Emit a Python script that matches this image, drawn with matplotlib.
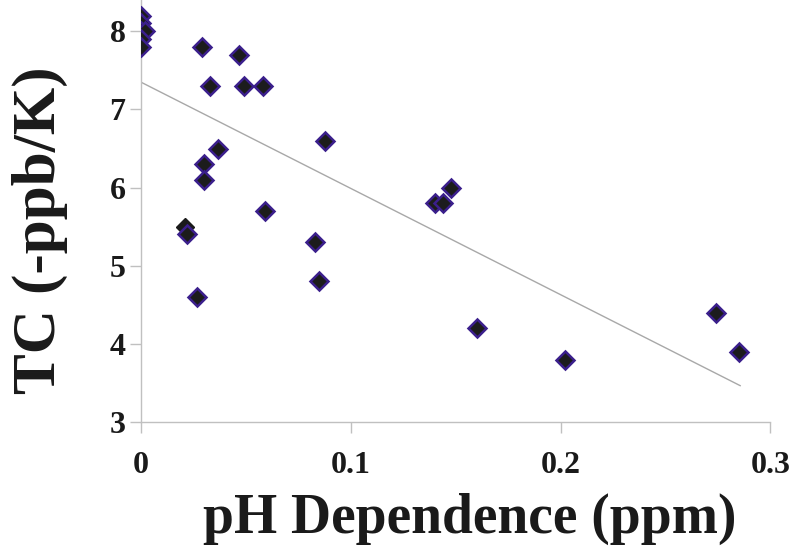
import numpy as np
import matplotlib
matplotlib.use('Agg')
import matplotlib.pyplot as plt

# pH dependence (ppm) vs TC (-ppb/K)
ph_dep = [0.0, 0.0, 0.0, 0.002, 0.0, 0.0,
          0.029, 0.047, 0.033, 0.049, 0.058,
          0.037, 0.088, 0.030, 0.030, 0.022,
          0.059, 0.027, 0.083, 0.085,
          0.140, 0.144, 0.148, 0.160, 0.202,
          0.274, 0.285]
tc = [8.2, 8.1, 8.0, 8.0, 7.9, 7.8,
      7.8, 7.7, 7.3, 7.3, 7.3,
      6.5, 6.6, 6.3, 6.1, 5.4,
      5.7, 4.6, 5.3, 4.8,
      5.8, 5.8, 6.0, 4.2, 3.8,
      4.4, 3.9]
# one point drawn without the outline
odd_x, odd_y = [0.021], [5.5]

# linear trendline
trend_x = [0.0, 0.2856]
trend_b, trend_k = 7.35, -13.6

plt.rcParams['font.family'] = ['Liberation Serif', 'DejaVu Serif']
plt.rcParams['font.weight'] = 'bold'

fig = plt.figure(figsize=(8, 5.46), dpi=100)
ax = fig.add_axes([0.176, 0.227, 0.787, 0.773])

xx = np.array(trend_x)
ax.plot(xx, trend_k*xx + trend_b, color='#a8a8a8', lw=1.0, zorder=1)
ax.plot(odd_x, odd_y, 'D', ms=9.5, mfc='#1a1a1a', mec='#1a1a1a', mew=1, zorder=2)
ax.plot(ph_dep, tc, 'D', ms=9.5, mfc='#1c1c1c', mec='#3b1f8c', mew=1.8, zorder=3)

ax.set_xlim(0, 0.3)
ax.set_ylim(3, 8.4)
ax.set_xticks([0, 0.1, 0.2, 0.3])
ax.set_xticklabels(['0', '0.1', '0.2', '0.3'])
ax.set_yticks([3, 4, 5, 6, 7, 8])

for s in ['top', 'right']:
    ax.spines[s].set_visible(False)
for s in ['left', 'bottom']:
    ax.spines[s].set_color('#c0c0c0')
    ax.spines[s].set_linewidth(1.0)
ax.tick_params(axis='both', colors='#c0c0c0', length=8, width=1.0,
               labelcolor='#1a1a1a', labelsize=23)
ax.tick_params(axis='x', pad=13)
ax.tick_params(axis='y', pad=3)
for lab in ax.get_xticklabels() + ax.get_yticklabels():
    lab.set_fontweight('bold')

ax.set_xlabel('pH Dependence (ppm)', fontsize=40, fontweight='bold', color='#1a1a1a', labelpad=9)
ax.set_ylabel('TC (-ppb/K)', fontsize=44, fontweight='bold', color='#1a1a1a', labelpad=30)
ax.xaxis.label.set_x(0.523)
ax.yaxis.label.set_y(0.455)

fig.savefig('out.png', dpi=100)
